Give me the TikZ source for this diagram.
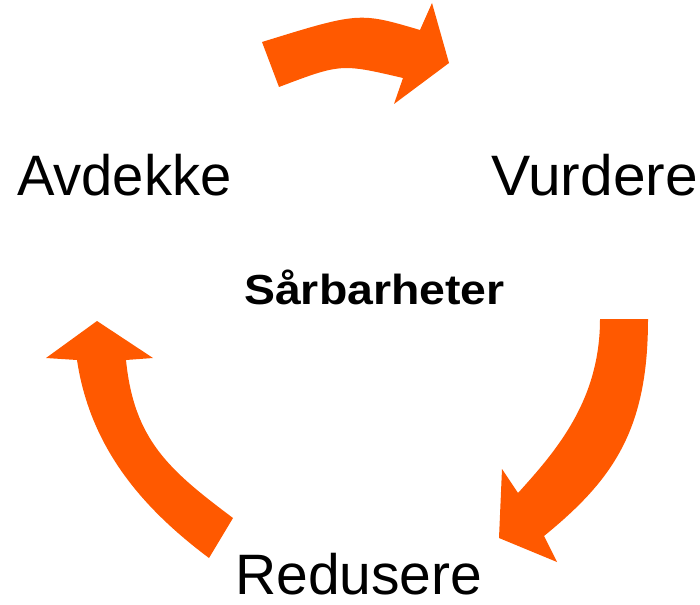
\documentclass[tikz,border=0pt]{standalone}
\usepackage{fontspec}
\setmainfont{Liberation Sans}
\definecolor{arroworange}{RGB}{255,89,0}
\begin{document}
\begin{tikzpicture}[x=1pt,y=-1pt,
  bigarrow/.style={fill=arroworange,draw=none},
  steplabel/.style={inner sep=0pt,anchor=base west,font=\fontsize{57}{60}\selectfont},
  centerlabel/.style={inner sep=0pt,anchor=base west,font=\fontsize{42}{46}\selectfont\bfseries}]
\useasboundingbox (0,0) rectangle (700,604);
% top arrow
\fill[bigarrow] (262,42) .. controls (359,12) .. (420,30)
  -- (432,3) -- (449,63) -- (394,104) -- (403,78)
  .. controls (341,63.5) .. (279,87) -- cycle;
% right arrow
\fill[bigarrow] (600,319) -- (648,319)
  .. controls (648,429) and (614,479) .. (544,536)
  -- (557,562) -- (499,538) -- (502,469) -- (518,493)
  .. controls (558,449) and (600,399) .. (600,319) -- cycle;
% left arrow
\fill[bigarrow] (209,558)
  .. controls (145,510) and (90.5,450) .. (77,360)
  -- (46,358) -- (97,321) -- (153,358) -- (126,360)
  .. controls (134,440) and (169,470) .. (233,518) -- cycle;
\node[steplabel] (avdekke) at (17,195) {\scalebox{0.985}[1]{Avdekke}};
\node[steplabel] (vurdere) at (491,195) {\scalebox{1.03}[1]{Vurdere}};
\node[steplabel] (redusere) at (235,594) {Redusere};
\node[centerlabel] (sarbarheter) at (244,304) {\scalebox{1.105}[1]{Sårbarheter}};
\end{tikzpicture}
\end{document}
